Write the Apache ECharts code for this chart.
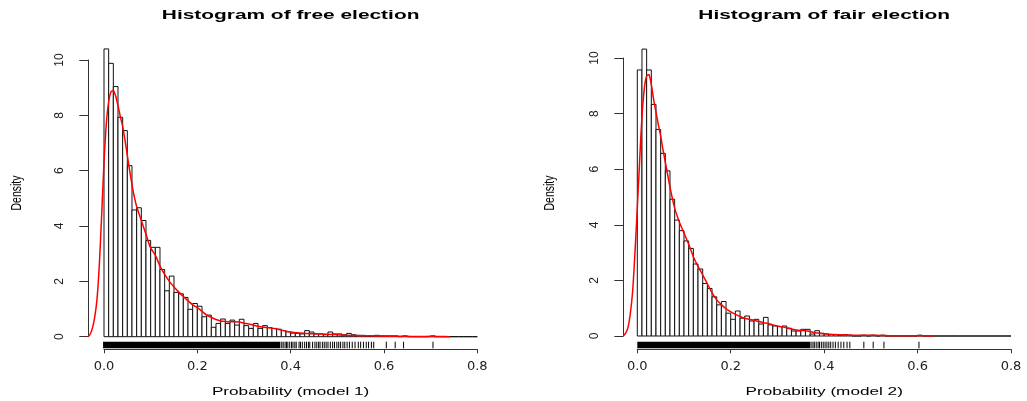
<!DOCTYPE html>
<html>
<head>
<meta charset="utf-8">
<script src="https://cdn.jsdelivr.net/npm/echarts@6/dist/echarts.min.js"></script>
<style>
html,body{margin:0;padding:0;background:#fff;}
#chart{width:1027px;height:401px;}
</style>
</head>
<body>
<div id="chart"></div>
<script>
// ---- data ----
const titles = ["Histogram of free election", "Histogram of fair election"];
const xNames = ["Probability (model 1)", "Probability (model 2)"];
const yName = "Density";
const xTicks = [0.0, 0.2, 0.4, 0.6, 0.8];
const yTicks = [0, 2, 4, 6, 8, 10];
const binWidth = 0.01;

// histogram densities, bins of width 0.01 starting at 0
const densFree = [10.4, 9.88, 9.04, 7.93, 7.45, 6.18, 4.58, 4.66, 4.2, 3.48,
  3.23, 3.23, 2.43, 1.66, 2.19, 1.6, 1.55, 1.42, 0.99, 1.2,
  1.1, 0.72, 0.78, 0.34, 0.48, 0.64, 0.48, 0.6, 0.42, 0.63,
  0.4, 0.3, 0.48, 0.3, 0.4, 0.33, 0.3, 0.27, 0.22, 0.18,
  0.13, 0.12, 0.1, 0.22, 0.17, 0.1, 0.1, 0.07, 0.17, 0.1,
  0.1, 0.07, 0.12, 0.07, 0.05, 0.05, 0.03, 0.03, 0.05, 0.03,
  0.03, 0.03, 0.03, 0, 0.03, 0, 0, 0, 0, 0,
  0.03, 0, 0, 0, 0, 0, 0, 0, 0, 0];
const densFair = [9.57, 10.32, 9.57, 8.33, 7.43, 6.57, 5.94, 4.92, 4.17, 3.79,
  3.42, 3.15, 2.59, 2.41, 1.89, 1.71, 1.41, 1.12, 1.24, 0.82,
  0.6, 0.9, 0.64, 0.72, 0.54, 0.6, 0.43, 0.67, 0.4, 0.36,
  0.34, 0.36, 0.28, 0.18, 0.18, 0.24, 0.24, 0.07, 0.19, 0.1,
  0.07, 0.05, 0.05, 0.03, 0.05, 0.03, 0, 0, 0.03, 0,
  0.03, 0, 0.03, 0, 0, 0, 0, 0, 0, 0,
  0.03, 0, 0, 0, 0, 0, 0, 0, 0, 0,
  0, 0, 0, 0, 0, 0, 0, 0, 0, 0];

// kernel density curves (x, y)
const kdeFreeX = [-0.034,-0.03,-0.025,-0.02,-0.015,-0.01,-0.005,0,0.005,0.01,0.015,0.02,0.025,0.03,0.035,0.04,0.045,0.05,0.055,0.06,0.065,0.07,0.08,0.09,0.1,0.11,0.12,0.13,0.14,0.15,0.16,0.17,0.18,0.19,0.2,0.21,0.22,0.23,0.24,0.25,0.26,0.27,0.28,0.29,0.3,0.31,0.32,0.33,0.34,0.35,0.36,0.37,0.38,0.39,0.4,0.42,0.44,0.46,0.48,0.5,0.52,0.54,0.56,0.58,0.6,0.62,0.64,0.66,0.68,0.7,0.72,0.74];
const kdeFreeY = [0,0.08,0.3,0.7,1.35,2.6,4.4,6.3,7.7,8.5,8.85,8.9,8.7,8.35,7.95,7.6,7.1,6.55,6.0,5.5,5.05,4.7,4.2,3.7,3.2,2.95,2.55,2.25,2.0,1.8,1.62,1.45,1.3,1.15,1.05,0.92,0.78,0.7,0.62,0.57,0.55,0.54,0.54,0.53,0.49,0.46,0.42,0.38,0.35,0.33,0.31,0.28,0.24,0.2,0.17,0.13,0.11,0.1,0.09,0.07,0.05,0.04,0.035,0.025,0.02,0.02,0.015,0.008,0.01,0.012,0.006,0];
const kdeFairX = [-0.03,-0.025,-0.02,-0.015,-0.01,-0.005,0,0.005,0.01,0.015,0.02,0.025,0.03,0.035,0.04,0.045,0.05,0.055,0.06,0.065,0.07,0.08,0.09,0.1,0.11,0.12,0.13,0.14,0.15,0.16,0.17,0.18,0.19,0.2,0.21,0.22,0.23,0.24,0.25,0.26,0.27,0.28,0.29,0.3,0.31,0.32,0.33,0.34,0.35,0.36,0.37,0.38,0.39,0.4,0.42,0.44,0.46,0.48,0.5,0.52,0.54,0.56,0.58,0.6,0.62,0.634];
const kdeFairY = [0,0.1,0.3,0.8,1.6,3.0,4.6,6.3,7.9,8.9,9.35,9.4,9.05,8.5,8.05,7.6,7.2,6.7,6.25,5.8,5.35,4.6,4.1,3.7,3.3,2.85,2.5,2.2,1.88,1.55,1.3,1.13,0.98,0.87,0.78,0.7,0.64,0.6,0.57,0.52,0.48,0.45,0.4,0.36,0.33,0.29,0.25,0.22,0.2,0.19,0.16,0.12,0.1,0.08,0.05,0.04,0.03,0.025,0.025,0.02,0.01,0.005,0.005,0.01,0.005,0];

// rug: continuous dense stretches and individual observations
const rugFreeDense = [[-0.002, 0.378]];
const rugFreeObs = [0.381,0.384,0.388,0.391,0.394,0.398,0.402,0.405,0.409,0.412,0.418,0.421,0.425,0.43,0.434,0.438,0.441,0.447,0.452,0.456,0.46,0.463,0.468,0.472,0.476,0.48,0.485,0.49,0.494,0.499,0.503,0.507,0.512,0.516,0.521,0.526,0.532,0.538,0.545,0.55,0.556,0.562,0.567,0.573,0.578,0.605,0.624,0.642,0.705];
const rugFairDense = [[0.0, 0.37]];
const rugFairObs = [0.372,0.376,0.379,0.383,0.387,0.39,0.394,0.398,0.402,0.406,0.41,0.414,0.419,0.424,0.43,0.436,0.442,0.449,0.455,0.485,0.505,0.528,0.603];

// ---- chart ----
const chart = echarts.init(document.getElementById('chart'), null, {renderer:'canvas'});

function binData(d){ return d.map((v,i)=>[i*binWidth, (i+1)*binWidth, v]); }

const panels = [
  {grid:{left:104, top:60, width:373.3, height:276.7, outerBoundsMode:'none', containLabel:false},
   xOff:12.6, yOff:15.7, rugTop:5, rugBot:11.6,
   dens:densFree, kx:kdeFreeX, ky:kdeFreeY, dense:rugFreeDense, obs:rugFreeObs, cx:290.6, nameX:17},
  {grid:{left:637.3, top:58, width:373.7, height:278, outerBoundsMode:'none', containLabel:false},
   xOff:13.3, yOff:14, rugTop:5.7, rugBot:12.3,
   dens:densFair, kx:kdeFairX, ky:kdeFairY, dense:rugFairDense, obs:rugFairObs, cx:824.2, nameX:550}
];

// stretched (wide) text as in the reference
function wideText(text, x, y, font, sx, sy, rot){
  return {type:'text', x:x, y:y, scaleX:sx, scaleY:sy || 1, rotation:rot || 0, silent:true,
    style:{text:text, font:font, fill:'#000', align:'center', verticalAlign:'middle',
           textAlign:'center', textVerticalAlign:'middle'}};
}

const option = {
  backgroundColor:'#fff',
  animation:false,
  graphic: [].concat(
    panels.map((p,i)=>wideText(titles[i], p.cx, 15.5, 'bold 12px "Liberation Sans", Arial, sans-serif', 1.74)),
    panels.map((p,i)=>wideText(xNames[i], p.cx, 392, '11px "Liberation Sans", Arial, sans-serif', 1.56)),
    panels.map((p,i)=>wideText(yName, p.nameX, 193, '10.5px "Liberation Sans", Arial, sans-serif', 1, 1.45, Math.PI/2))
  ),
  grid: panels.map(p=>p.grid),
  xAxis: panels.map((p,i)=>({
    type:'value', gridIndex:i, min:0, max:0.8, interval:0.2, offset:p.xOff,
    axisLine:{onZero:false, lineStyle:{color:'#333', width:1}},
    axisTick:{show:true, length:4, lineStyle:{color:'#333'}},
    axisLabel:{margin:11, fontFamily:'DejaVu Sans', fontSize:13, color:'#222', formatter:v=>v.toFixed(1)},
    splitLine:{show:false}
  })),
  yAxis: panels.map((p,i)=>({
    type:'value', gridIndex:i, min:0, max:10, interval:2, offset:p.yOff,
    axisLine:{show:true, onZero:false, lineStyle:{color:'#333', width:1}},
    axisTick:{show:true, length:9, lineStyle:{color:'#333'}},
    axisLabel:{rotate:90, margin:23, fontFamily:'Liberation Sans', fontSize:12, color:'#222'},
    splitLine:{show:false}
  })),
  series: []
};

panels.forEach((p,i)=>{
  // histogram bars
  option.series.push({
    type:'custom', xAxisIndex:i, yAxisIndex:i, clip:false, silent:true,
    data: binData(p.dens),
    renderItem:(params, api)=>{
      const a = api.coord([api.value(0), api.value(2)]);
      const b = api.coord([api.value(1), 0]);
      return {type:'rect', shape:{x:a[0], y:a[1], width:b[0]-a[0], height:b[1]-a[1]},
        style:{fill:'#fff', stroke:'#111', lineWidth:1}};
    }
  });
  // density curve (one polyline mapped through the axes)
  option.series.push({
    type:'custom', xAxisIndex:i, yAxisIndex:i, clip:false, silent:true,
    data: [[p.kx[0], p.ky[0]]],
    renderItem:(params, api)=>{
      const pts = p.kx.map((x,j)=>api.coord([x, p.ky[j]]));
      return {type:'polyline', shape:{points:pts, smooth:0.25},
        style:{stroke:'#ff0000', lineWidth:1.5, fill:null}};
    }
  });
  // rug dense stretch
  option.series.push({
    type:'custom', xAxisIndex:i, yAxisIndex:i, clip:false, silent:true,
    data: p.dense,
    renderItem:(params, api)=>{
      const a = api.coord([api.value(0), 0]);
      const b = api.coord([api.value(1), 0]);
      return {type:'rect', shape:{x:a[0], y:a[1]+p.rugTop, width:b[0]-a[0], height:p.rugBot-p.rugTop},
        style:{fill:'#000'}};
    }
  });
  // rug individual ticks
  option.series.push({
    type:'custom', xAxisIndex:i, yAxisIndex:i, clip:false, silent:true,
    data: p.obs.map(v=>[v]),
    renderItem:(params, api)=>{
      const a = api.coord([api.value(0), 0]);
      return {type:'line', shape:{x1:a[0], y1:a[1]+p.rugTop, x2:a[0], y2:a[1]+p.rugBot},
        style:{stroke:'#000', lineWidth:1}};
    }
  });
});

chart.setOption(option);
</script>
</body>
</html>
